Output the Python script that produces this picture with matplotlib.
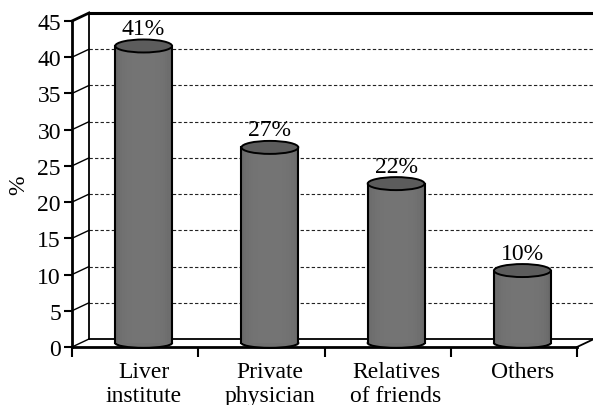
import numpy as np
import matplotlib
matplotlib.use("Agg")
import matplotlib.pyplot as plt
import matplotlib.transforms as mtransforms
from matplotlib.patches import Ellipse, Rectangle

plt.rcParams.update({
    "font.family": "serif",
    "font.serif": ["Liberation Serif", "DejaVu Serif"],
    "font.size": 17,
})

categories = ["Liver\ninstitute", "Private\nphysician", "Relatives\nof friends", "Others"]
values = [41, 27, 22, 10]
value_labels = ["41%", "27%", "22%", "10%"]
y_ticks = list(range(0, 50, 5))

DPI = 100
DEPTH_X, DEPTH_Y = 17, 8          # back wall offset in pixels
BAR_W = 0.45                      # cylinder diameter in category units
ELL_PX = 13                       # height of the cylinder cap ellipse, px
N_STRIPS = 24                     # shading strips across each cylinder

fig = plt.figure(figsize=(5.93, 4.06), dpi=DPI)
ax = fig.add_axes([72 / 593, 58 / 406, 505 / 593, 326 / 406])
ax.set_xlim(-0.5, len(categories) - 0.5)
ax.set_ylim(0, 45)
ax.patch.set_visible(False)
for s in ["top", "right"]:
    ax.spines[s].set_visible(False)
ax.spines["left"].set_linewidth(2)
ax.spines["bottom"].set_linewidth(2)

ax.set_yticks(y_ticks)
ax.tick_params(axis="y", direction="out", length=6, width=1.5, pad=2)
ax.set_xticks(np.arange(-0.5, len(categories), 1.0))
ax.set_xticklabels([])
ax.tick_params(axis="x", direction="out", length=7, width=1.5)
ax.set_ylabel("%", labelpad=6)


def shifted(fx, fy):
    return ax.transData + mtransforms.ScaledTranslation(fx * DEPTH_X / DPI, fy * DEPTH_Y / DPI, fig.dpi_scale_trans)


back = shifted(1, 1)
mid = shifted(0.5, 0.5)
x0, x1 = ax.get_xlim()

# back wall: dashed gridlines, edges, floor
for v in y_ticks[1:-1]:
    ax.plot([x0, x1], [v, v], transform=back, color="#222222", lw=0.8,
            ls=(0, (3, 2)), clip_on=False, zorder=1)
ax.plot([x0, x1], [45, 45], transform=back, color="black", lw=2.2, clip_on=False, zorder=1)
ax.plot([x0, x0], [0, 45], transform=back, color="black", lw=1.3, clip_on=False, zorder=1)
ax.plot([x0, x1], [0, 0], transform=back, color="black", lw=1.3, clip_on=False, zorder=1)

# diagonal connectors from the front axis to the back wall
for v in y_ticks:
    p_front = ax.transData.transform((x0, v))
    p_back = back.transform((x0, v))
    ax.plot([p_front[0], p_back[0]], [p_front[1], p_back[1]], transform=None,
            color="black", lw=2.0 if v == 45 else 1.0, clip_on=False, zorder=1)
pf = ax.transData.transform((x1, 0))
pb = back.transform((x1, 0))
ax.plot([pf[0], pb[0]], [pf[1], pb[1]], transform=None, color="black", lw=1.3,
        clip_on=False, zorder=1)

# cylinders
px_per_unit = ax.transData.transform((0, 1))[1] - ax.transData.transform((0, 0))[1]
ell_h = ELL_PX / px_per_unit
cap_col = "#5c5c5c"
t = np.linspace(-1, 1, N_STRIPS)
shade = 0.455 - 0.04 * t ** 4           # nearly flat grey, slightly darker at the rims
strip_w = BAR_W / N_STRIPS
for i, v in enumerate(values):
    xl = i - BAR_W / 2
    ax.add_patch(Ellipse((i, 0), BAR_W, ell_h * 0.75, transform=mid, facecolor="#707070",
                         edgecolor="black", lw=1.5, zorder=3, clip_on=False))
    for k in range(N_STRIPS):
        g = shade[k]
        ax.add_patch(Rectangle((xl + k * strip_w, 0), strip_w * 1.05, v, transform=mid,
                               facecolor=(g, g, g), edgecolor="none", zorder=4,
                               clip_on=False))
    for sx in (xl, i + BAR_W / 2):
        ax.plot([sx, sx], [0, v], transform=mid, color="black", lw=1.5, zorder=5,
                clip_on=False)
    ax.add_patch(Ellipse((i, v), BAR_W, ell_h, transform=mid, facecolor=cap_col,
                         edgecolor="black", lw=1.4, zorder=6, clip_on=False))
    lab_tr = mid + mtransforms.ScaledTranslation(0, 12 / DPI, fig.dpi_scale_trans)
    ax.text(i, v, value_labels[i], transform=lab_tr, ha="center", va="baseline",
            zorder=7)

# category labels under the floor
cat_tr = mid + mtransforms.ScaledTranslation(0, -18 / DPI, fig.dpi_scale_trans)
for i, c in enumerate(categories):
    ax.text(i, 0, c, transform=cat_tr, ha="center", va="top",
            linespacing=1.18, clip_on=False)

fig.savefig("out.png", dpi=DPI)
